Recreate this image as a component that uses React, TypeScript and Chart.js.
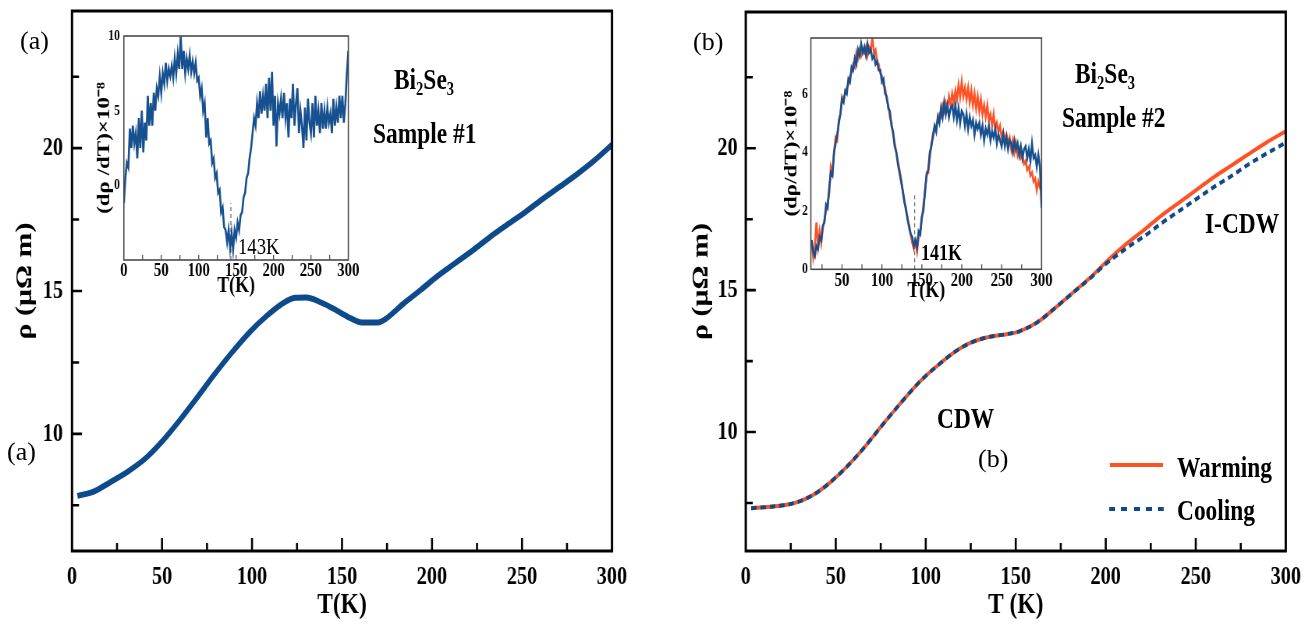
import React, { useEffect, useRef } from 'react';
import { Chart, registerables } from 'chart.js';

Chart.register(...registerables);

// horizontal squeeze of the whole figure (the original was compressed horizontally)
const SQUEEZE = 0.78;
const L = (px: number) => px / SQUEEZE;

// ---------------- data ----------------
// (a) Sample #1 resistivity
const tempA = [3, 12, 21, 31, 41, 50, 60, 70, 79, 89, 99, 108, 116, 124, 130, 139, 147, 155, 161, 170, 174, 184, 194, 203, 213, 223, 232, 242, 252, 261, 271, 281, 290, 300];
const rhoA = [7.83, 7.98, 8.3, 8.68, 9.15, 9.73, 10.49, 11.31, 12.07, 12.86, 13.58, 14.12, 14.52, 14.76, 14.77, 14.58, 14.32, 14.04, 13.9, 13.9, 14.01, 14.55, 15.05, 15.52, 15.98, 16.44, 16.88, 17.33, 17.77, 18.2, 18.65, 19.11, 19.56, 20.12];

// (b) Sample #2 resistivity
const tempB = [3, 12, 21, 29, 37, 46, 56, 66, 75, 85, 94, 100, 108, 116, 125, 135, 145, 152, 162, 172, 181, 191, 200, 212, 222, 231, 241, 251, 260, 270, 279, 289, 300];
const rhoWarming = [7.32, 7.36, 7.42, 7.54, 7.77, 8.18, 8.77, 9.47, 10.18, 10.94, 11.6, 11.98, 12.42, 12.82, 13.15, 13.35, 13.45, 13.55, 13.87, 14.38, 14.87, 15.42, 15.98, 16.66, 17.16, 17.63, 18.1, 18.56, 18.98, 19.4, 19.78, 20.19, 20.6];
const rhoCooling = [7.32, 7.36, 7.42, 7.54, 7.77, 8.18, 8.77, 9.47, 10.18, 10.94, 11.6, 11.98, 12.42, 12.82, 13.15, 13.35, 13.45, 13.55, 13.87, 14.38, 14.87, 15.4, 15.92, 16.5, 16.93, 17.36, 17.8, 18.24, 18.63, 19.03, 19.42, 19.8, 20.2];

// inset (a): dρ/dT
const insetATemp = [0, 2, 4, 6, 8, 10, 12, 14, 16, 18, 20, 22, 24, 26, 28, 30, 32, 34, 36, 38, 40, 42, 44, 46, 48, 50, 52, 54, 56, 58, 60, 62, 64, 66, 68, 70, 72, 74, 76, 78, 80, 82, 84, 86, 88, 90, 92, 94, 96, 98, 100, 102, 104, 106, 108, 110, 112, 114, 116, 118, 120, 122, 124, 126, 128, 130, 132, 134, 136, 138, 140, 142, 144, 146, 148, 150, 152, 154, 156, 158, 160, 162, 164, 166, 168, 170, 172, 174, 176, 178, 180, 182, 184, 186, 188, 190, 192, 194, 196, 198, 200, 202, 204, 206, 208, 210, 212, 214, 216, 218, 220, 222, 224, 226, 228, 230, 232, 234, 236, 238, 240, 242, 244, 246, 248, 250, 252, 254, 256, 258, 260, 262, 264, 266, 268, 270, 272, 274, 276, 278, 280, 282, 284, 286, 288, 290, 292, 294, 296, 298, 300];
const insetADeriv = [
  -1.2, 0.5, 1.5, 1.2, 3.8, 2.5, 4.0, 2.8, 3.5, 1.8,
  4.5, 2.5, 5.0, 2.2, 4.2, 3.0, 6.0, 4.0, 5.5, 4.0,
  6.2, 5.0, 6.5, 6.0, 7.3, 6.2, 7.5, 6.8, 8.2, 7.0,
  7.8, 7.3, 8.0, 7.2, 8.5, 7.5, 8.8, 7.8, 10.0, 7.8,
  9.0, 7.5, 8.5, 7.8, 8.7, 7.6, 8.3, 7.5, 8.2, 7.0,
  7.2, 6.0, 6.5, 5.0, 5.5, 3.2, 4.5, 2.8, 3.0, 1.5,
  1.8, 0.5, 0.8, -0.5, -0.3, -1.8, -1.5, -2.8, -3.0, -3.8,
  -3.0, -4.2, -3.2, -4.3, -3.0, -3.5, -2.5, -3.0, -2.0, -1.8,
  -0.8, -0.5, 0.5, 0.8, 1.8, 2.5, 3.5, 4.5, 4.0, 5.5,
  4.5, 6.3, 4.8, 6.0, 5.0, 6.8, 4.5, 7.2, 5.0, 7.6,
  4.0, 6.0, 2.6, 5.5, 4.8, 5.8, 4.5, 6.2, 4.5, 5.5,
  3.2, 5.8, 4.5, 6.8, 4.0, 5.5, 6.5, 3.5, 5.0, 4.0,
  2.5, 5.2, 3.0, 5.8, 4.2, 3.5, 5.5, 3.2, 6.0, 4.0,
  5.0, 3.5, 5.5, 3.8, 5.0, 3.8, 5.2, 4.2, 4.8, 3.5,
  5.8, 4.0, 5.2, 4.2, 6.0, 4.5, 6.0, 4.2, 5.5, 7.5,
  9.0,
];

// inset (b): dρ/dT warming / cooling
const insetBTemp = [12, 14, 16, 18, 20, 22, 24, 26, 28, 30, 32, 34, 36, 38, 40, 42, 44, 46, 48, 50, 52, 54, 56, 58, 60, 62, 64, 66, 68, 70, 72, 74, 76, 78, 80, 82, 84, 86, 88, 90, 92, 94, 96, 98, 100, 102, 104, 106, 108, 110, 112, 114, 116, 118, 120, 122, 124, 126, 128, 130, 132, 134, 136, 138, 140, 142, 144, 146, 148, 150, 152, 154, 156, 158, 160, 162, 164, 166, 168, 170, 172, 174, 176, 178, 180, 182, 184, 186, 188, 190, 192, 194, 196, 198, 200, 202, 204, 206, 208, 210, 212, 214, 216, 218, 220, 222, 224, 226, 228, 230, 232, 234, 236, 238, 240, 242, 244, 246, 248, 250, 252, 254, 256, 258, 260, 262, 264, 266, 268, 270, 272, 274, 276, 278, 280, 282, 284, 286, 288, 290, 292, 294, 296, 298, 300];
const insetBCooling = [
  1.0, 0.6, 0.45, 0.8, 0.7, 1.1, 1.0, 1.5, 1.6, 2.2,
  2.1, 2.8, 3.3, 3.2, 4.0, 4.3, 4.6, 5.0, 5.3, 5.8,
  5.7, 6.1, 6.0, 6.5, 6.4, 6.9, 6.8, 7.2, 7.0, 7.5,
  7.3, 7.7, 7.4, 7.6, 7.3, 7.7, 7.4, 7.5, 7.2, 7.3,
  7.0, 7.1, 6.8, 6.8, 6.4, 6.5, 6.0, 5.9, 5.5, 5.4,
  4.9, 4.7, 4.2, 4.0, 3.6, 3.3, 3.0, 2.7, 2.3, 2.1,
  1.7, 1.5, 1.2, 1.1, 0.8, 1.0, 0.75, 1.3, 1.2, 1.8,
  2.0, 2.7, 3.2, 3.4, 4.0, 4.2, 4.6, 4.9, 4.7, 5.2,
  5.0, 5.5, 5.2, 5.7, 5.3, 5.6, 5.2, 5.5, 5.6, 5.2,
  5.6, 5.1, 5.5, 5.0, 5.4, 5.3, 4.9, 5.3, 4.8, 5.2,
  4.9, 5.1, 4.6, 5.0, 4.8, 5.0, 4.6, 4.9, 4.4, 4.8,
  4.6, 4.9, 4.4, 4.7, 4.5, 4.8, 4.3, 4.6, 4.4, 4.2,
  4.6, 4.2, 4.5, 4.1, 4.4, 4.3, 4.0, 4.4, 4.1, 4.3,
  3.9, 4.2, 3.8, 4.1, 4.2, 3.8, 4.1, 3.7, 4.3, 3.8,
  3.9, 3.5, 3.9, 3.5, 2.1,
];
const insetBWarming = [
  0.9, 0.4, 0.8, 1.6, 0.8, 1.3, 0.9, 1.4, 1.7, 2.0,
  2.3, 2.6, 3.5, 3.3, 4.0, 4.5, 4.4, 5.1, 5.3, 5.9,
  5.8, 6.0, 6.2, 6.3, 6.6, 6.7, 7.0, 6.9, 7.4, 7.2,
  7.5, 7.3, 7.5, 7.4, 7.6, 7.3, 7.6, 7.5, 7.9, 7.4,
  7.5, 7.1, 7.0, 6.7, 6.6, 6.3, 6.2, 5.8, 5.6, 5.2,
  5.0, 4.6, 4.3, 4.0, 3.7, 3.4, 3.1, 2.7, 2.4, 2.0,
  1.8, 1.4, 1.2, 0.9, 0.7, 0.9, 0.6, 1.1, 1.3, 1.7,
  2.2, 2.6, 3.3, 3.3, 3.8, 4.3, 4.5, 4.8, 4.9, 5.1,
  5.3, 5.2, 5.6, 5.4, 5.7, 5.5, 5.9, 5.6, 6.0, 5.7,
  6.1, 5.8, 6.3, 5.9, 6.4, 5.9, 6.2, 5.8, 6.2, 5.7,
  6.1, 5.6, 6.0, 5.5, 5.9, 5.4, 5.8, 5.3, 5.6, 5.2,
  5.6, 5.1, 5.3, 4.9, 5.3, 4.8, 5.0, 4.7, 4.9, 4.5,
  4.7, 4.4, 4.6, 4.3, 4.5, 4.1, 4.4, 4.0, 4.3, 3.9,
  4.1, 3.8, 3.9, 3.6, 3.7, 3.4, 3.5, 3.2, 3.3, 3.0,
  3.1, 2.7, 3.0, 2.8, 2.9,
];

// transition markers
const transitionA = 143;
const transitionARange = [-5, -1.2];
const transitionB = 141;
const transitionBRange = [0, 2.6];

// ticks
const mainXLabels = [0, 50, 100, 150, 200, 250, 300];
const mainXMajor = [50, 100, 150, 200, 250];
const mainXMinor = [25, 75, 125, 175, 225, 275];
const mainYLabels = [10, 15, 20];
const mainYMinor = [7.5, 12.5, 17.5, 22.5];
const insetXTicks = [25, 50, 75, 100, 125, 150, 175, 200, 225, 250, 275];
const insetAXLabels = [0, 50, 100, 150, 200, 250, 300];
const insetAYLabels = [0, 5, 10];
const insetBXLabels = [50, 100, 150, 200, 250, 300];
const insetBYLabels = [0, 2, 4, 6];

// ---------------- style ----------------
const SERIF = "'Liberation Serif', 'Times New Roman', serif";
const NAVY = '#0d4a8b';
const INSET_BLUE = '#17508f';
const ORANGE = '#ff5224';

const frameTicks = {
  id: 'frameTicks',
  afterDatasetsDraw(chart: any, _args: any, o: any) {
    const { ctx, chartArea: a, scales } = chart;
    const xs = scales.x;
    const ys = scales.y;
    ctx.save();
    ctx.strokeStyle = o.color;
    ctx.lineWidth = o.tickWidth;
    ctx.beginPath();
    const xt = (vals: number[], len: number) => vals.forEach((v) => {
      const p = xs.getPixelForValue(v);
      ctx.moveTo(p, a.bottom);
      ctx.lineTo(p, a.bottom - len);
    });
    const yt = (vals: number[], len: number) => vals.forEach((v) => {
      const p = ys.getPixelForValue(v);
      ctx.moveTo(a.left, p);
      ctx.lineTo(a.left + len, p);
    });
    xt(o.xMajor || [], o.xMajorLen || 0);
    xt(o.xMinor || [], o.xMinorLen || 0);
    yt(o.yMajor || [], o.yMajorLen || 0);
    yt(o.yMinor || [], o.yMinorLen || 0);
    ctx.stroke();
    ctx.lineWidth = o.frameWidth;
    ctx.strokeRect(a.left, a.top, a.right - a.left, a.bottom - a.top);
    ctx.restore();
  },
};

type Cfg = {
  datasets: any[];
  x: [number, number];
  y: [number, number];
  xLabels: number[];
  yLabels: number[];
  canvasW: number;
  canvasH: number;
  areaLeft: number;
  areaRight: number;
  areaTop: number;
  areaBottom: number;
  tickFont: number;
  yTickFont: number;
  xTickPad: number;
  yTickPad: number;
  xTitle: string;
  yTitle: string;
  xTitleFont: number;
  yTitleFont: number;
  xTitleCenter: number;
  yTitleCenter: number;
  frame: any;
};

function makeChart(canvas: HTMLCanvasElement, c: Cfg) {
  const yAxisW = c.areaLeft;
  const xAxisH = c.canvasH - c.areaBottom;
  const zeroPad = (s: any) => {
    s.paddingTop = 0; s.paddingBottom = 0; s.paddingLeft = 0; s.paddingRight = 0;
  };
  return new Chart(canvas, {
    type: 'line',
    data: { datasets: c.datasets },
    options: {
      animation: false,
      responsive: false,
      devicePixelRatio: 1,
      events: [],
      layout: { padding: { left: 0, top: c.areaTop, right: c.canvasW - c.areaRight, bottom: 0 } },
      plugins: { legend: { display: false }, tooltip: { enabled: false }, frameTicks: c.frame } as any,
      scales: {
        x: {
          type: 'linear',
          min: c.x[0],
          max: c.x[1],
          grid: { display: false, drawTicks: false },
          border: { display: false },
          afterBuildTicks: (s: any) => { s.ticks = c.xLabels.map((v) => ({ value: v })); },
          afterFit: (s: any) => { s.height = xAxisH; zeroPad(s); },
          ticks: { color: '#000', padding: c.xTickPad, maxRotation: 0, autoSkip: false, font: { family: SERIF, size: c.tickFont, weight: 'bold' } },
          title: {
            display: true, text: c.xTitle, color: '#000',
            font: { family: SERIF, size: c.xTitleFont, weight: 'bold', lineHeight: 1.2 },
            padding: { top: 0, bottom: c.xTitleCenter - c.xTitleFont * 0.6 },
          },
        },
        y: {
          type: 'linear',
          min: c.y[0],
          max: c.y[1],
          grid: { display: false, drawTicks: false },
          border: { display: false },
          afterBuildTicks: (s: any) => { s.ticks = c.yLabels.map((v) => ({ value: v })); },
          afterFit: (s: any) => { s.width = yAxisW; zeroPad(s); },
          ticks: { color: '#000', padding: c.yTickPad, autoSkip: false, font: { family: SERIF, size: c.yTickFont, weight: 'bold' } },
          title: {
            display: true, text: c.yTitle, color: '#000',
            font: { family: SERIF, size: c.yTitleFont, weight: 'bold', lineHeight: 1.2 },
            padding: { top: c.yTitleCenter - c.yTitleFont * 0.6, bottom: 0 },
          },
        },
      },
    } as any,
    plugins: [frameTicks as any],
  });
}

const pts = (xs: number[], ys: number[]) => xs.map((x, i) => ({ x, y: ys[i] }));

// canvas geometry (displayed px)
const MA = { left: 0, top: 0, w: 640, h: 626 };
const MB = { left: 650, top: 0, w: 660, h: 626 };
const IA = { left: 80, top: 24, w: 282, h: 280 };
const IB = { left: 770, top: 26, w: 288, h: 280 };

export default function App() {
  const refMA = useRef<HTMLCanvasElement>(null);
  const refMB = useRef<HTMLCanvasElement>(null);
  const refIA = useRef<HTMLCanvasElement>(null);
  const refIB = useRef<HTMLCanvasElement>(null);

  useEffect(() => {
    document.body.style.margin = '0';
    const mainFrame = {
      color: '#000', tickWidth: 2.6, frameWidth: 3,
      xMajor: mainXMajor, xMajorLen: 13, xMinor: mainXMinor, xMinorLen: 8,
      yMajor: mainYLabels, yMajorLen: L(10), yMinor: mainYMinor, yMinorLen: L(7),
    };
    const insetFrame = {
      color: '#4a4a4a', tickWidth: 1.3, frameWidth: 1.6,
      xMajor: insetXTicks, xMajorLen: 5,
    };
    const charts: Chart[] = [];
    charts.push(makeChart(refMA.current!, {
      datasets: [{ data: pts(tempA, rhoA), borderColor: NAVY, borderWidth: 6, pointRadius: 0, cubicInterpolationMode: 'monotone' }],
      x: [0, 300], y: [5.9, 24.8], xLabels: mainXLabels, yLabels: mainYLabels,
      canvasW: Math.round(L(MA.w)), canvasH: MA.h,
      areaLeft: L(72 - MA.left), areaRight: L(612 - MA.left), areaTop: 11, areaBottom: 551,
      tickFont: 26, yTickFont: 26, xTickPad: 11, yTickPad: L(9),
      xTitle: 'T(K)', yTitle: 'ρ (μΩ m)', xTitleFont: 30, yTitleFont: 30,
      xTitleCenter: 21, yTitleCenter: L(25 - MA.left),
      frame: mainFrame,
    }));
    charts.push(makeChart(refMB.current!, {
      datasets: [
        { data: pts(tempB, rhoCooling), borderColor: NAVY, borderWidth: 4, borderDash: [7, 5], pointRadius: 0, cubicInterpolationMode: 'monotone' },
        { data: pts(tempB, rhoWarming), borderColor: ORANGE, borderWidth: 4, pointRadius: 0, cubicInterpolationMode: 'monotone' },
      ],
      x: [0, 300], y: [5.81, 24.8], xLabels: mainXLabels, yLabels: mainYLabels,
      canvasW: Math.round(L(MB.w)), canvasH: MB.h,
      areaLeft: L(746 - MB.left), areaRight: L(1286 - MB.left), areaTop: 12, areaBottom: 551,
      tickFont: 26, yTickFont: 26, xTickPad: 11, yTickPad: L(8),
      xTitle: 'T (K)', yTitle: 'ρ (μΩ m)', xTitleFont: 30, yTitleFont: 30,
      xTitleCenter: 21, yTitleCenter: L(702 - MB.left),
      frame: mainFrame,
    }));
    charts.push(makeChart(refIA.current!, {
      datasets: [
        { data: pts(insetATemp, insetADeriv), borderColor: INSET_BLUE, borderWidth: 2.6, pointRadius: 0, tension: 0 },
        { data: [{ x: transitionA, y: transitionARange[0] }, { x: transitionA, y: transitionARange[1] }], borderColor: '#666', borderWidth: 1.2, borderDash: [4, 3], pointRadius: 0 },
      ],
      x: [0, 300], y: [-5, 10], xLabels: insetAXLabels, yLabels: insetAYLabels,
      canvasW: Math.round(L(IA.w)), canvasH: IA.h,
      areaLeft: L(123.5 - IA.left), areaRight: L(348 - IA.left), areaTop: 36 - IA.top, areaBottom: 260 - IA.top,
      tickFont: 19, yTickFont: 15, xTickPad: 0, yTickPad: L(4),
      xTitle: 'T(K)', yTitle: '(dρ /dT)×10⁻⁸', xTitleFont: 23, yTitleFont: 23,
      xTitleCenter: IA.top + IA.h - 286, yTitleCenter: L(104 - IA.left),
      frame: insetFrame,
    }));
    charts.push(makeChart(refIB.current!, {
      datasets: [
        { data: pts(insetBTemp, insetBCooling), borderColor: INSET_BLUE, borderWidth: 2.6, pointRadius: 0, tension: 0 },
        { data: pts(insetBTemp, insetBWarming), borderColor: ORANGE, borderWidth: 2.6, pointRadius: 0, tension: 0 },
        { data: [{ x: transitionB, y: transitionBRange[0] }, { x: transitionB, y: transitionBRange[1] }], borderColor: '#666', borderWidth: 1.2, borderDash: [4, 3], pointRadius: 0 },
      ],
      x: [11, 300], y: [0, 7.9], xLabels: insetBXLabels, yLabels: insetBYLabels,
      canvasW: Math.round(L(IB.w)), canvasH: IB.h,
      areaLeft: L(811 - IB.left), areaRight: L(1041.7 - IB.left), areaTop: 38 - IB.top, areaBottom: 269.3 - IB.top,
      tickFont: 19, yTickFont: 15, xTickPad: 0, yTickPad: L(3),
      xTitle: 'T(K)', yTitle: '(dρ/dT)×10⁻⁸', xTitleFont: 23, yTitleFont: 23,
      xTitleCenter: IB.top + IB.h - 291, yTitleCenter: L(792 - IB.left),
      frame: insetFrame,
    }));
    return () => charts.forEach((c) => c.destroy());
  }, []);

  const canvasStyle = (g: { left: number; top: number }) => ({ position: 'absolute' as const, left: L(g.left), top: g.top });
  const txt = (x: number, capTop: number, size: number, bold = true): React.CSSProperties => ({
    position: 'absolute', left: L(x), top: capTop - 0.1755 * size, fontSize: size, lineHeight: 1,
    fontFamily: SERIF, fontWeight: bold ? 'bold' : 'normal', whiteSpace: 'nowrap', color: '#000',
  });
  const sub: React.CSSProperties = { fontSize: '0.62em', position: 'relative', top: '0.32em' };
  const panelLabel = (x: number, y: number): React.CSSProperties => ({
    position: 'absolute', left: x, top: y, fontSize: 26, lineHeight: 1, fontFamily: SERIF, color: '#000', whiteSpace: 'nowrap',
  });

  return (
    <div style={{ position: 'fixed', left: 0, top: 0, width: 1310, height: 626, overflow: 'hidden', background: '#fff' }}>
      <div style={{ position: 'absolute', left: 0, top: 0, width: L(1310), height: 626, transform: `scaleX(${SQUEEZE})`, transformOrigin: '0 0' }}>
        <canvas ref={refMA} width={Math.round(L(MA.w))} height={MA.h} style={canvasStyle(MA)} />
        <canvas ref={refMB} width={Math.round(L(MB.w))} height={MB.h} style={canvasStyle(MB)} />
        <canvas ref={refIA} width={Math.round(L(IA.w))} height={IA.h} style={canvasStyle(IA)} />
        <canvas ref={refIB} width={Math.round(L(IB.w))} height={IB.h} style={canvasStyle(IB)} />

        <div style={txt(394, 69, 30)}>Bi<span style={sub}>2</span>Se<span style={sub}>3</span></div>
        <div style={txt(373, 123, 30)}>Sample #1</div>
        <div style={txt(1075, 63, 30)}>Bi<span style={sub}>2</span>Se<span style={sub}>3</span></div>
        <div style={txt(1062, 107, 30)}>Sample #2</div>
        <div style={txt(937, 408, 30)}>CDW</div>
        <div style={txt(1205, 213, 30)}>I-CDW</div>
        <div style={txt(238, 238, 24, false)}>143K</div>
        <div style={txt(921, 245, 23)}>141K</div>

        <div style={{ position: 'absolute', left: L(1110), top: 463, width: L(53), height: 4, background: ORANGE }} />
        <div style={txt(1177, 457, 30)}>Warming</div>
        <div style={{ position: 'absolute', left: L(1109), top: 507, width: L(55), height: 4, background: `repeating-linear-gradient(to right, ${NAVY} 0px, ${NAVY} ${L(6)}px, transparent ${L(6)}px, transparent ${L(12.2)}px)` }} />
        <div style={txt(1177, 500, 30)}>Cooling</div>
      </div>
      <div style={panelLabel(20, 28)}>(a)</div>
      <div style={panelLabel(7, 439)}>(a)</div>
      <div style={panelLabel(693, 29)}>(b)</div>
      <div style={panelLabel(978, 446)}>(b)</div>
    </div>
  );
}
